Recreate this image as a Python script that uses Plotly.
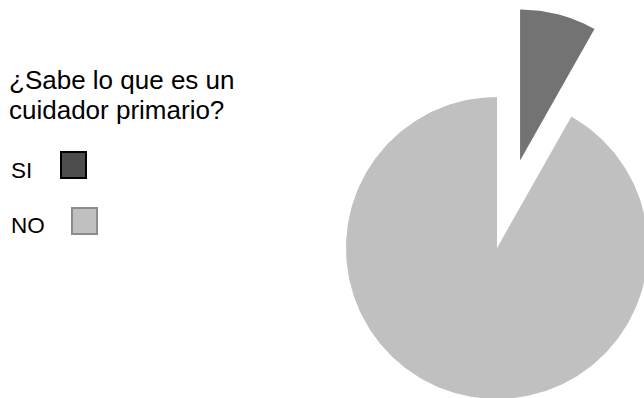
import numpy as np
import plotly.graph_objects as go

# Survey answers (percent of respondents)
categories = ["SI", "NO"]
values = [8.2, 91.8]
pulls = [0.6, 0.0]                      # exploded fraction of radius per slice
slice_colors = ["#737373", "#c0c0c0"]
legend_colors = ["#4d4d4d", "#c0c0c0"]
legend_borders = ["#000000", "#8c8c8c"]
title_lines = ["¿Sabe lo que es un", "cuidador primario?"]

W, H = 644, 398
CX, CY, R = 497, 248, 151   # pie centre and radius in pixels
FONT = "Liberation Sans, Arial, sans-serif"

fig = go.Figure()

# Slices run clockwise from 12 o'clock, drawn in unit-radius data space
total = sum(values)
start = 0.0
for cat, val, pull, col in zip(categories, values, pulls, slice_colors):
    span = val / total * 2 * np.pi
    t = np.linspace(start, start + span, 240)
    mid = start + span / 2
    ox, oy = pull * np.sin(mid), pull * np.cos(mid)
    xs = np.concatenate([[ox], ox + np.sin(t), [ox]])
    ys = np.concatenate([[oy], oy + np.cos(t), [oy]])
    fig.add_trace(go.Scatter(
        x=xs, y=ys, fill="toself", fillcolor=col, mode="lines",
        line=dict(width=0, color=col), name=cat, hoverinfo="name",
        showlegend=False,
    ))
    start += span


def px(x):
    return x / W


def py(y):
    return 1 - y / H


annotations = []
# Legend title, two lines
for text, yc in zip(title_lines, [80.5, 110.5]):
    annotations.append(dict(
        text=text, x=px(8), y=py(yc), xref="paper", yref="paper",
        xanchor="left", yanchor="middle", showarrow=False, borderpad=0,
        font=dict(family=FONT, size=26, color="#000000"),
    ))

# Legend entries: label followed by a swatch
label_y = [170.5, 225.5]
swatch_x = [61, 72]
swatch_y = [152, 208]
shapes = []
for cat, ly, sx, sy, fc, bc in zip(categories, label_y, swatch_x, swatch_y,
                                   legend_colors, legend_borders):
    annotations.append(dict(
        text=cat, x=px(9), y=py(ly), xref="paper", yref="paper",
        xanchor="left", yanchor="middle", showarrow=False,
        font=dict(family=FONT, size=22.5, color="#000000"),
    ))
    shapes.append(dict(
        type="rect", xref="paper", yref="paper",
        x0=px(sx), x1=px(sx + 25), y0=py(sy + 26), y1=py(sy),
        fillcolor=fc, line=dict(color=bc, width=2),
    ))

fig.update_layout(
    width=W, height=H,
    margin=dict(l=0, r=0, t=0, b=0),
    paper_bgcolor="white", plot_bgcolor="white",
    xaxis=dict(range=[-CX / R, (W - CX) / R], visible=False, fixedrange=True),
    yaxis=dict(range=[-(H - CY) / R, CY / R], visible=False, fixedrange=True),
    annotations=annotations,
    shapes=shapes,
    showlegend=False,
)

fig.write_html("out.html")
